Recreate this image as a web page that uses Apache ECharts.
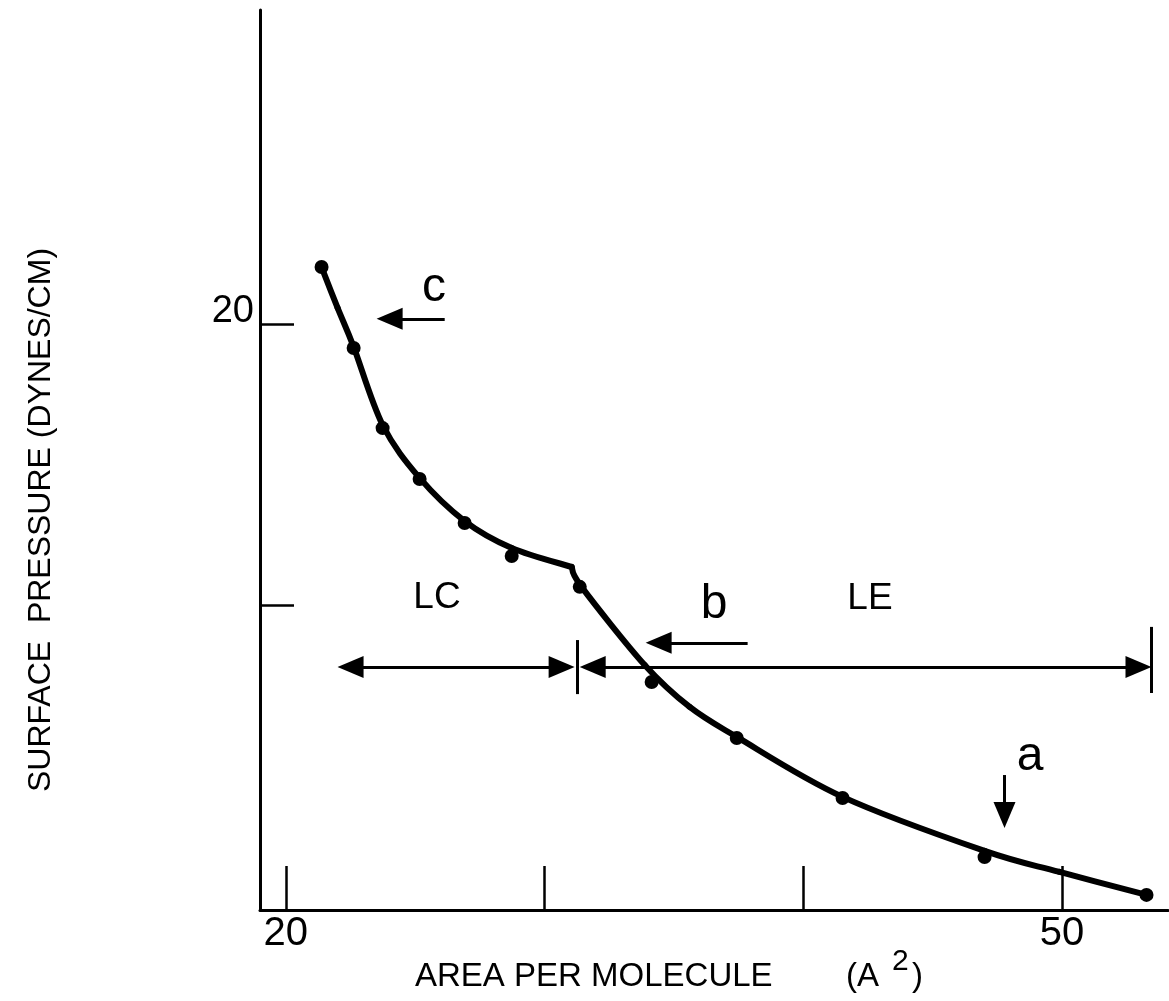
<!DOCTYPE html>
<html>
<head>
<meta charset="utf-8">
<title>Surface pressure isotherm</title>
<script src="https://cdn.jsdelivr.net/npm/echarts@6/dist/echarts.min.js"></script>
<style>
  html, body { margin: 0; padding: 0; background: #fff; }
  #chart { width: 1169px; height: 1001px; }
</style>
</head>
<body>
<div id="chart"></div>
<script>
// Measured isotherm points: area per molecule (Å²) vs surface pressure (dynes/cm)
const area = [21.38, 22.62, 23.74, 25.17, 26.91, 28.73, 31.36, 34.14, 37.43, 41.52, 47.01, 53.27];
const pressure = [22.06, 19.17, 16.31, 14.49, 12.92, 11.74, 10.64, 7.24, 5.24, 3.10, 0.99, -0.36];

// Hand-fitted curve knots, liquid-condensed branch (ends at the break point)
const lcCurveArea = [21.38, 22.00, 22.62, 23.74, 25.17, 26.91, 28.73, 31.05];
const lcCurvePressure = [22.06, 20.60, 19.21, 16.42, 14.53, 12.99, 12.03, 11.35];

// Hand-fitted curve knots, liquid-expanded branch (starts at the break point)
const leCurveArea = [31.05, 31.43, 33.87, 35.61, 37.43, 41.52, 47.01, 49.91, 53.27];
const leCurvePressure = [11.35, 10.64, 7.85, 6.35, 5.28, 3.14, 1.21, 0.46, -0.36];

// Axis ticks and labelled ticks
const xTicks = [20, 30, 40, 50];
const xTickLabels = [20, 50];
const yTicks = [10, 20];
const yTickLabels = [20];

// Arrow annotations in data units: [from, to]
const arrowC = [[26.14, 20.21], [24.01, 20.21]];
const arrowB = [[37.85, 8.64], [34.41, 8.64]];
const arrowA = [[47.78, 3.92], [47.78, 2.49]];
const rangeLC = [[22.50, 7.78], [30.66, 7.78]];
const rangeLE = [[31.86, 7.78], [52.96, 7.78]];
const barMid = [[31.28, 8.74], [31.28, 6.81]];
const barEnd = [[53.47, 9.21], [53.47, 6.85]];

const FONT = "'Liberation Sans', Arial, Helvetica, sans-serif";
const INK = '#000';

const zip = (xs, ys) => xs.map((x, i) => [x, ys[i]]);

const head = 'triangle';
const headSize = [22, 26];
function seg(pair, fromSym, toSym) {
  return [
    { coord: pair[0], symbol: fromSym, symbolSize: headSize },
    { coord: pair[1], symbol: toSym, symbolSize: headSize }
  ];
}

// Draws one Catmull-Rom span (knot i -> i+1) of a fitted branch as a cubic Bézier
function branchSeries(name, xs, ys) {
  const knots = zip(xs, ys);
  return {
    name: name,
    type: 'custom',
    data: knots,
    encode: { x: 0, y: 1 },
    z: 3,
    silent: true,
    renderItem: function (params, api) {
      const i = params.dataIndex;
      const n = knots.length;
      if (i >= n - 1) return null;
      const p = knots.map(k => api.coord(k));
      const p0 = p[Math.max(i - 1, 0)], p1 = p[i], p2 = p[i + 1], p3 = p[Math.min(i + 2, n - 1)];
      return {
        type: 'bezierCurve',
        shape: {
          x1: p1[0], y1: p1[1],
          cpx1: p1[0] + (p2[0] - p0[0]) / 6, cpy1: p1[1] + (p2[1] - p0[1]) / 6,
          cpx2: p2[0] - (p3[0] - p1[0]) / 6, cpy2: p2[1] - (p3[1] - p1[1]) / 6,
          x2: p2[0], y2: p2[1]
        },
        style: { fill: null, stroke: INK, lineWidth: 6, lineCap: 'round', lineJoin: 'round' }
      };
    }
  };
}

const chart = echarts.init(document.getElementById('chart'), null, { renderer: 'canvas' });

chart.setOption({
  animation: false,
  backgroundColor: '#fff',
  grid: { left: 260, right: 1, top: 10, bottom: 91, containLabel: false },
  xAxis: {
    type: 'value',
    min: 19.0,
    max: 54.1,
    splitLine: { show: false },
    axisLine: { show: true, onZero: false, lineStyle: { color: INK, width: 3 } },
    axisTick: { show: true, inside: true, length: 44, customValues: xTicks, lineStyle: { color: INK, width: 2.5 } },
    axisLabel: {
      customValues: xTickLabels,
      color: INK, fontFamily: FONT, fontSize: 40,
      margin: 4, lineHeight: 40, verticalAlign: 'top'
    }
  },
  yAxis: {
    type: 'value',
    min: -0.9,
    max: 31.24,
    splitLine: { show: false },
    axisLine: { show: true, onZero: false, lineStyle: { color: INK, width: 3 } },
    axisTick: { show: true, inside: true, length: 34, customValues: yTicks, lineStyle: { color: INK, width: 2.5 } },
    axisLabel: {
      customValues: yTickLabels,
      color: INK, fontFamily: FONT, fontSize: 38,
      margin: 6, lineHeight: 26, verticalAlign: 'bottom'
    }
  },
  series: [
    branchSeries('LC branch', lcCurveArea, lcCurvePressure),
    branchSeries('LE branch', leCurveArea, leCurvePressure),
    {
      name: 'measured',
      type: 'scatter',
      data: zip(area, pressure),
      symbol: 'circle',
      symbolSize: 14,
      itemStyle: { color: INK, opacity: 1 },
      z: 4,
      markLine: {
        silent: true,
        animation: false,
        label: { show: false },
        emphasis: { disabled: true },
        lineStyle: { color: INK, width: 3, type: 'solid', opacity: 1 },
        itemStyle: { color: INK },
        data: [
          seg(arrowC, 'none', head),
          seg(arrowB, 'none', head),
          seg(arrowA, 'none', head),
          seg(rangeLC, head, head),
          seg(rangeLE, head, head),
          seg(barMid, 'none', 'none'),
          seg(barEnd, 'none', 'none')
        ]
      }
    }
  ],
  graphic: [
    { type: 'text', x: 41, y: 520, rotation: Math.PI / 2,
      style: { text: 'SURFACE  PRESSURE (DYNES/CM)', x: 0, y: 0, fill: INK, font: '32px ' + FONT, align: 'center', verticalAlign: 'middle' } },
    { type: 'text', style: { text: 'AREA PER MOLECULE', x: 415, y: 977, fill: INK, font: '33px ' + FONT, align: 'left', verticalAlign: 'middle' } },
    { type: 'text', style: { text: '(A', x: 846, y: 977, fill: INK, font: '33px ' + FONT, align: 'left', verticalAlign: 'middle' } },
    { type: 'text', style: { text: '2', x: 892, y: 962, fill: INK, font: '30px ' + FONT, align: 'left', verticalAlign: 'middle' } },
    { type: 'text', style: { text: ')', x: 912, y: 977, fill: INK, font: '33px ' + FONT, align: 'left', verticalAlign: 'middle' } },
    { type: 'text', style: { text: 'c', x: 434, y: 288, fill: INK, font: '48px ' + FONT, align: 'center', verticalAlign: 'middle' } },
    { type: 'text', style: { text: 'b', x: 714, y: 605, fill: INK, font: '48px ' + FONT, align: 'center', verticalAlign: 'middle' } },
    { type: 'text', style: { text: 'a', x: 1030, y: 757, fill: INK, font: '48px ' + FONT, align: 'center', verticalAlign: 'middle' } },
    { type: 'text', style: { text: 'LC', x: 437, y: 598, fill: INK, font: '37px ' + FONT, align: 'center', verticalAlign: 'middle' } },
    { type: 'text', style: { text: 'LE', x: 870, y: 599, fill: INK, font: '37px ' + FONT, align: 'center', verticalAlign: 'middle' } }
  ]
});
</script>
</body>
</html>
